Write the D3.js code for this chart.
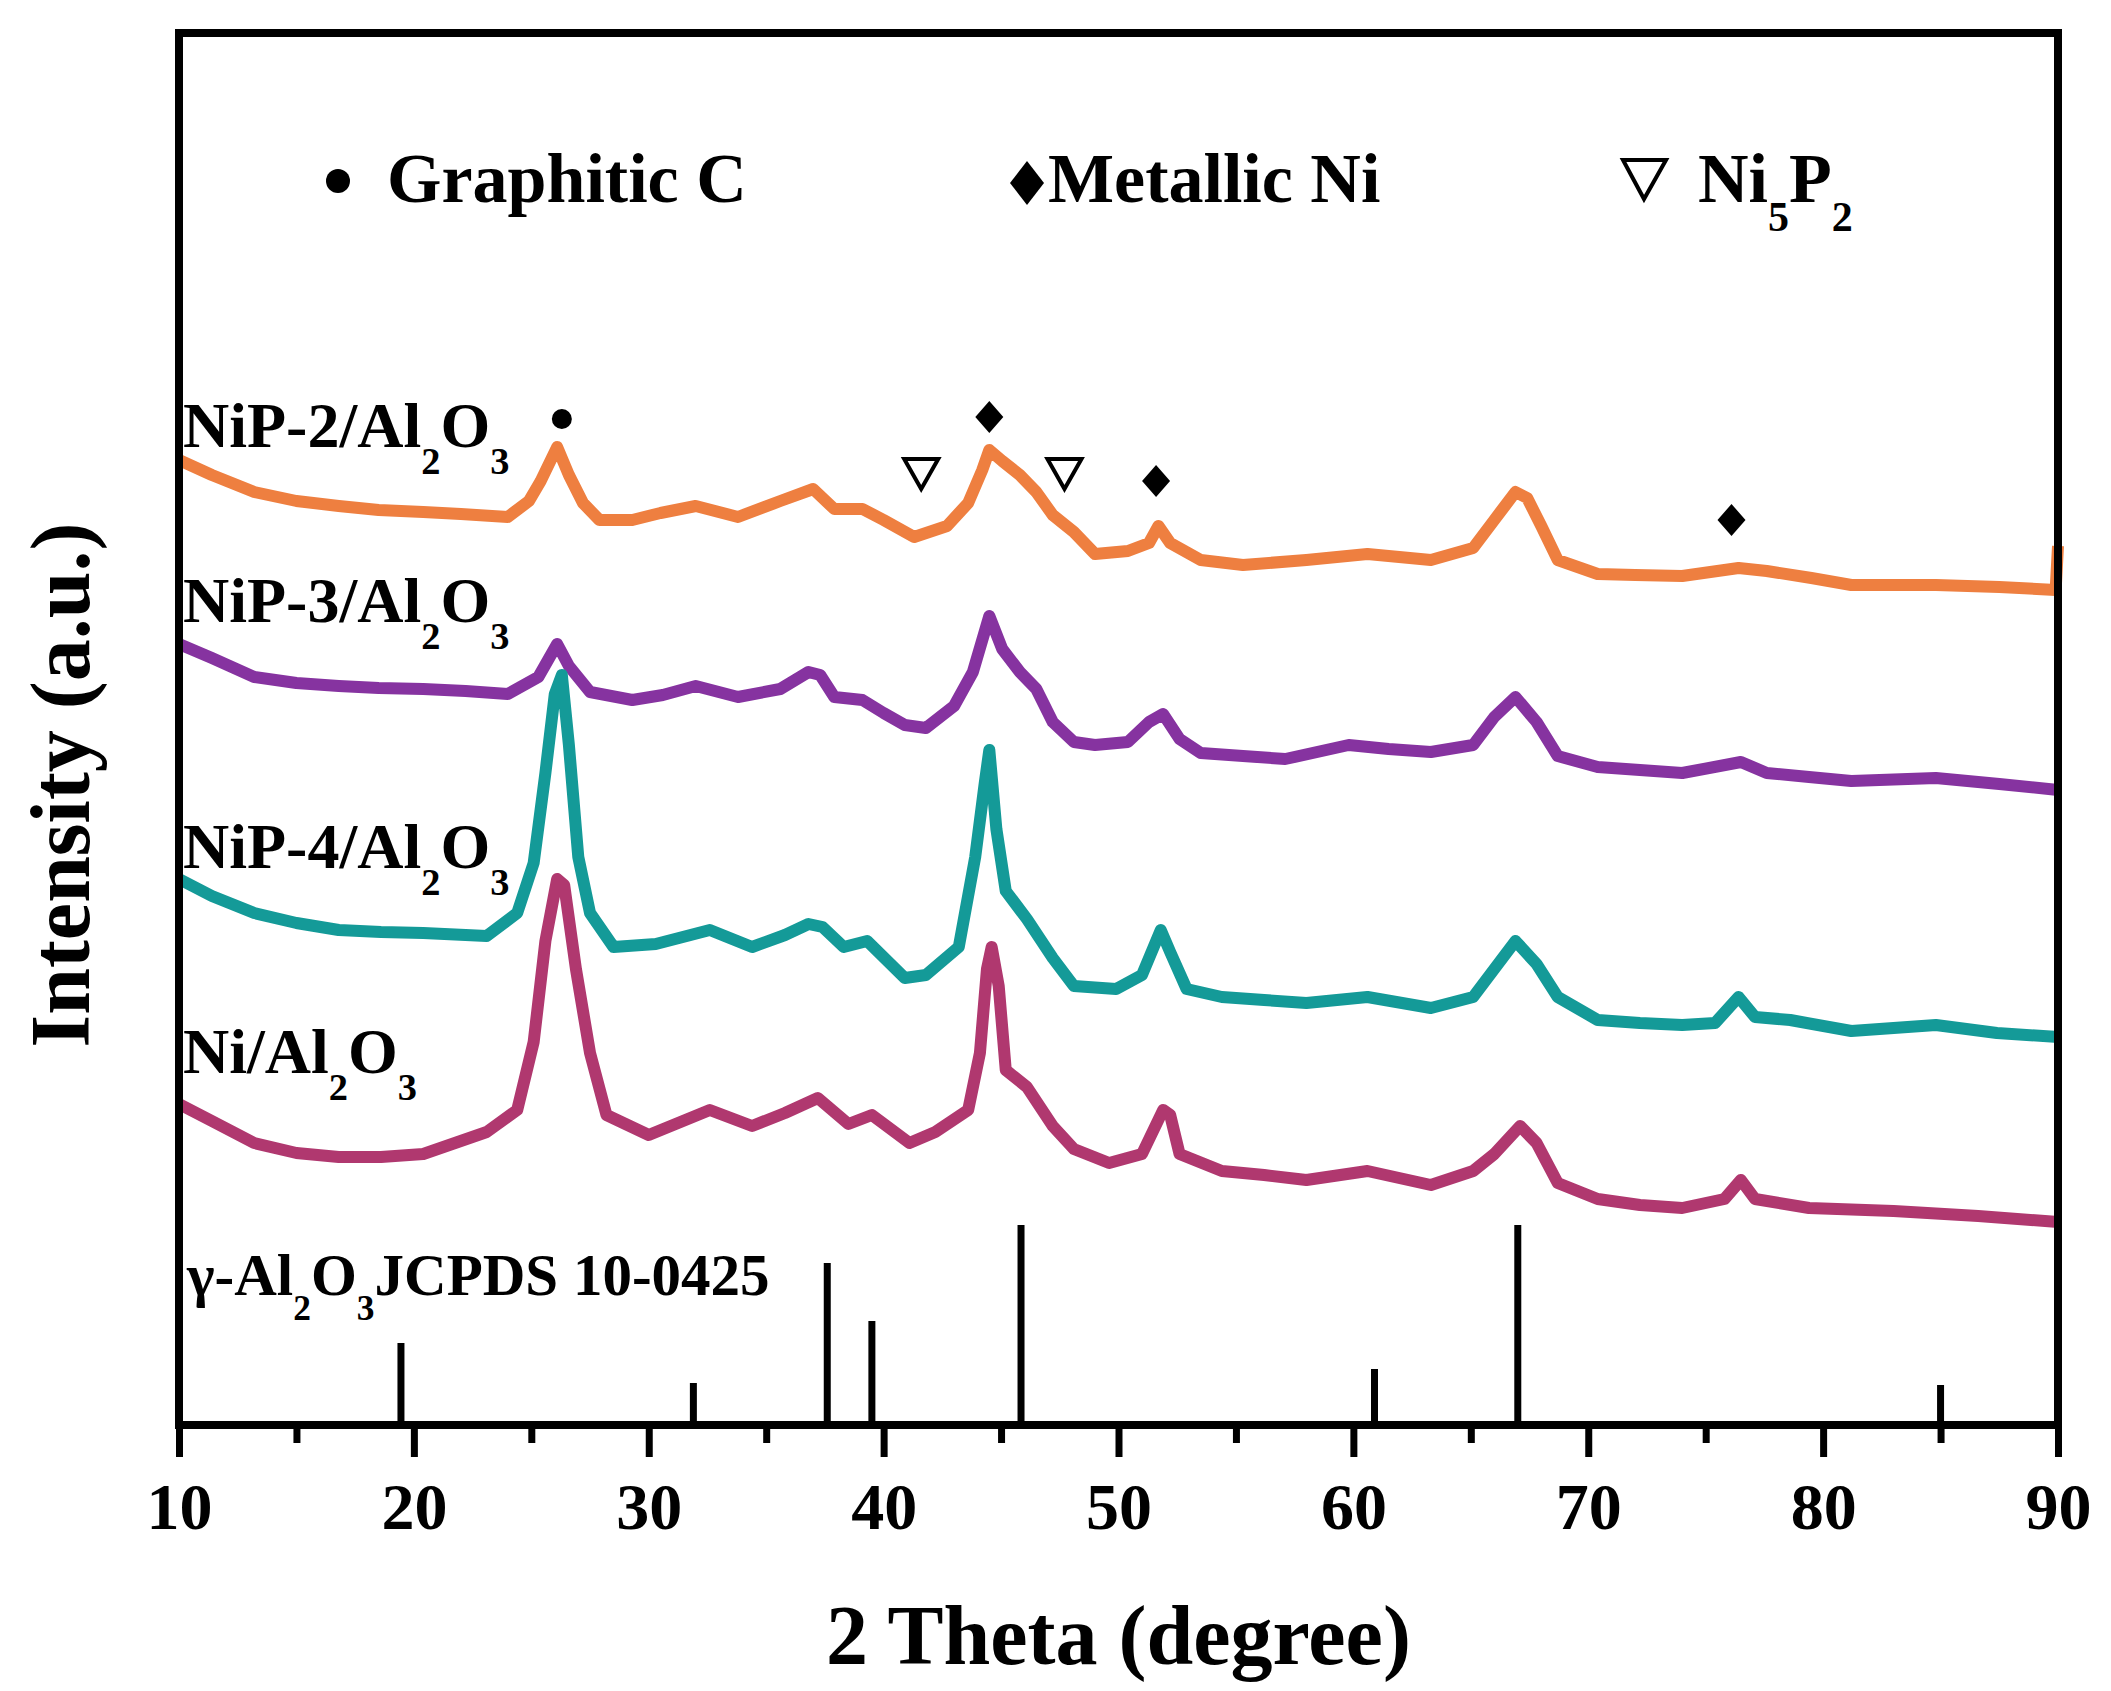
<!DOCTYPE html>
<html lang="en">
<head>
    <meta charset="UTF-8">
    <title>XRD patterns</title>
    <script src="https://cdn.jsdelivr.net/npm/d3@7"></script>
    <style>
        body { margin: 0; background: #fff; }
        svg text { font-family: "Liberation Serif", "Times New Roman", serif; font-weight: bold; fill: #000; }
    </style>
</head>
<body>
<div id="chart"></div>
<script>
    // 2 theta (deg) vs stacked intensity (a.u.)
    const niP2 = [[10.0,965],[11.4,950],[13.2,933],[15.0,924],[16.8,919],[18.5,915],[20.4,913],[22.0,911],[24.0,908],[24.9,924],[25.4,944],[26.1,978],[26.6,950],[27.2,922],[27.9,905],[29.3,905],[30.5,912],[32.0,919],[33.8,908],[35.6,924],[37.0,936],[37.9,916],[39.1,916],[40.0,905],[41.3,888],[42.7,899],[43.6,922],[44.2,955],[44.5,975],[45.05,964],[45.8,950],[46.5,933],[47.2,910],[48.1,893],[49.0,871],[50.4,874],[51.3,882],[51.7,899],[52.2,882],[53.5,865],[55.3,860],[58.0,865],[60.6,871],[63.3,865],[65.1,877],[66.0,905],[66.9,933],[67.4,927],[68.0,899],[68.7,865],[70.4,851],[72.0,850],[74.0,849],[76.4,857],[77.6,854],[79.5,847],[81.2,840],[84.8,840],[87.5,838],[89.9,835],[90.0,879]];
    const niP3 = [[10.0,781],[11.4,767],[13.2,748],[15.0,742],[16.8,739],[18.5,737],[20.4,736],[22.2,734],[24.0,731],[25.3,748],[26.1,781],[26.6,759],[27.5,733],[29.3,725],[30.6,730],[32.0,739],[33.8,728],[35.6,736],[36.8,753],[37.3,750],[37.9,728],[39.1,725],[40.0,712],[40.9,700],[41.8,697],[43.0,719],[43.8,753],[44.5,809],[45.05,776],[45.8,753],[46.5,736],[47.2,703],[48.1,683],[49.0,680],[50.4,683],[51.3,703],[51.9,711],[52.6,686],[53.5,672],[55.3,669],[57.1,666],[59.8,680],[61.5,676],[63.3,673],[65.1,680],[66.0,708],[66.9,728],[67.8,703],[68.7,669],[70.4,658],[72.2,655],[74.0,652],[76.5,663],[77.6,652],[79.4,648],[81.2,644],[84.8,647],[87.5,641],[90.0,635]];
    const niP4 = [[10.0,546],[11.4,529],[13.2,512],[15.0,502],[16.8,495],[18.6,493],[20.4,492],[23.1,489],[24.4,512],[25.1,562],[25.6,652],[26.0,731],[26.3,750],[26.6,680],[27.0,568],[27.5,512],[28.5,478],[30.3,481],[32.6,495],[34.4,478],[35.8,490],[36.8,501],[37.4,498],[38.3,478],[39.3,484],[40.9,447],[41.8,450],[43.2,478],[43.9,568],[44.3,641],[44.5,675],[44.8,596],[45.2,534],[46.1,506],[47.2,467],[48.1,439],[49.9,436],[51.0,450],[51.8,495],[52.2,473],[52.9,436],[54.4,428],[56.2,425],[58.0,422],[60.6,428],[63.3,417],[65.1,428],[66.0,456],[66.9,484],[67.8,461],[68.7,428],[70.4,405],[72.2,402],[74.0,400],[75.4,402],[76.4,428],[77.1,408],[78.6,405],[81.2,394],[83.0,397],[84.8,400],[87.4,392],[90.0,388]];
    const niAl = [[10.0,321],[11.4,304],[13.2,282],[15.0,272],[16.8,268],[18.6,268],[20.4,271],[23.1,293],[24.4,315],[25.1,383],[25.6,484],[26.1,546],[26.4,540],[26.9,456],[27.5,372],[28.2,310],[30.0,290],[32.6,315],[34.4,299],[35.8,312],[37.2,327],[38.5,301],[39.5,310],[41.1,282],[42.2,293],[43.6,315],[44.1,372],[44.4,456],[44.6,478],[44.9,439],[45.2,355],[46.1,338],[47.2,299],[48.1,276],[49.6,262],[51.0,271],[51.9,315],[52.2,310],[52.6,271],[54.4,254],[56.2,250],[58.0,245],[60.6,254],[63.3,240],[65.1,254],[66.0,271],[67.1,299],[67.8,282],[68.7,242],[70.4,226],[72.2,220],[74.0,217],[75.8,226],[76.5,245],[77.1,226],[79.4,217],[83.0,214],[86.6,209],[90.0,203]];

    const seriesNames = ["NiP-2/Al2O3", "NiP-3/Al2O3", "NiP-4/Al2O3", "Ni/Al2O3"];
    const seriesColors = ["#EE7F40", "#8633A0", "#149A98", "#B0386F"];
    const seriesData = [niP2, niP3, niP4, niAl];
    // label baseline, in the same intensity units
    const labelLevels = [978, 803, 557, 352];

    // gamma-Al2O3 JCPDS 10-0425 reference lines (2 theta, relative intensity)
    const refPeaks = [[19.45,41],[31.9,21],[37.6,81],[39.5,52],[45.85,100],[60.9,28],[67.0,100],[85.0,20]];

    // phase markers above the NiP-2 pattern
    const phaseMarks = [
        {t: 26.3, v: 1006, kind: "dot"},
        {t: 44.5, v: 1008, kind: "diamond"},
        {t: 41.6, v: 952, kind: "tri"},
        {t: 47.7, v: 952, kind: "tri"},
        {t: 51.6, v: 944, kind: "diamond"},
        {t: 76.1, v: 905, kind: "diamond"}
    ];

    const majorTicks = [10, 20, 30, 40, 50, 60, 70, 80, 90];
    const minorTicks = [15, 25, 35, 45, 55, 65, 75, 85];

    const width = 2111, height = 1691;
    const plotLeft = 179, plotRight = 2058, plotTop = 33, plotBottom = 1425;

    const svg = d3.select("#chart").append("svg")
        .attr("width", width)
        .attr("height", height);

    const x = d3.scaleLinear().domain([10, 90]).range([plotLeft, plotRight]);
    const y = d3.scaleLinear().domain([0, 1392]).range([plotBottom, plotTop]);
    const yRef = d3.scaleLinear().domain([0, 100]).range([plotBottom, plotBottom - 200]);

    // write "Al2O3"-style text with subscripts
    function chem(sel, str, size) {
        const parts = str.match(/[^0-9]+|[0-9]/g);
        let sub = false;
        parts.forEach((p, i) => {
            const isDigit = /[0-9]/.test(p) && i > 0 && /[A-Za-z]$/.test(parts[i - 1]);
            const ts = sel.append("tspan").text(p);
            if (isDigit) {
                ts.attr("font-size", size * 0.6).attr("dy", sub ? 0 : size * 0.42);
                sub = true;
            } else {
                ts.attr("font-size", size).attr("dy", sub ? -size * 0.42 : 0);
                sub = false;
            }
        });
    }

    // reference sticks
    svg.append("g")
        .selectAll("line")
        .data(refPeaks)
        .enter().append("line")
        .attr("x1", d => x(d[0]))
        .attr("x2", d => x(d[0]))
        .attr("y1", yRef(0))
        .attr("y2", d => yRef(d[1]))
        .attr("stroke", "#000")
        .attr("stroke-width", 7);

    // patterns
    const line = d3.line().x(d => x(d[0])).y(d => y(d[1]));
    svg.append("g")
        .selectAll("path")
        .data(seriesData)
        .enter().append("path")
        .attr("d", d => line(d))
        .attr("fill", "none")
        .attr("stroke", (d, i) => seriesColors[i])
        .attr("stroke-width", 12)
        .attr("stroke-linejoin", "round");

    // sample labels
    seriesNames.forEach((name, i) => {
        const t = svg.append("text")
            .attr("x", plotLeft + 4)
            .attr("y", y(labelLevels[i]));
        chem(t, name, 64);
    });

    const refLabel = svg.append("text").attr("x", plotLeft + 8).attr("y", 1295);
    refLabel.append("tspan").attr("font-size", 59).text("\u03B3-");
    chem(refLabel, "Al2O3", 59);
    refLabel.append("tspan").attr("font-size", 59).attr("dy", -59 * 0.42).text("JCPDS 10-0425");

    // markers
    const marks = svg.append("g");
    phaseMarks.forEach(m => {
        const cx = x(m.t), cy = y(m.v);
        if (m.kind === "dot") {
            marks.append("circle").attr("cx", cx).attr("cy", cy).attr("r", 10).attr("fill", "#000");
        } else if (m.kind === "diamond") {
            marks.append("path")
                .attr("d", `M${cx},${cy - 16}L${cx + 14},${cy}L${cx},${cy + 16}L${cx - 14},${cy}Z`)
                .attr("fill", "#000");
        } else {
            marks.append("path")
                .attr("d", `M${cx - 17},${cy - 14}L${cx + 17},${cy - 14}L${cx},${cy + 16}Z`)
                .attr("fill", "none").attr("stroke", "#000").attr("stroke-width", 4);
        }
    });

    // legend
    const lg = svg.append("g");
    lg.append("circle").attr("cx", 338).attr("cy", 181).attr("r", 12).attr("fill", "#000");
    lg.append("text").attr("x", 387).attr("y", 202).attr("font-size", 70).text("Graphitic C");
    lg.append("path").attr("d", "M1027,161L1044,183L1027,205L1010,183Z").attr("fill", "#000");
    lg.append("text").attr("x", 1048).attr("y", 202).attr("font-size", 70).text("Metallic Ni");
    lg.append("path").attr("d", "M1623,160L1666,160L1644,199Z")
        .attr("fill", "none").attr("stroke", "#000").attr("stroke-width", 4);
    const ni5p2 = lg.append("text").attr("x", 1698).attr("y", 202);
    chem(ni5p2, "Ni5P2", 70);

    // axes
    const xAxis = svg.append("g")
        .attr("transform", `translate(0,${plotBottom})`)
        .call(d3.axisBottom(x).tickValues(majorTicks).tickSize(32).tickFormat(d3.format("d")));
    xAxis.select(".domain").remove();
    xAxis.selectAll(".tick line").attr("stroke-width", 7);
    xAxis.selectAll(".tick text")
        .attr("y", 57)
        .attr("dy", "0.71em")
        .attr("font-size", 66)
        .style("font-family", "'Liberation Serif', 'Times New Roman', serif")
        .style("font-weight", "bold");

    const xMinor = svg.append("g")
        .attr("transform", `translate(0,${plotBottom})`)
        .call(d3.axisBottom(x).tickValues(minorTicks).tickSize(18).tickFormat(""));
    xMinor.select(".domain").remove();
    xMinor.selectAll(".tick line").attr("stroke-width", 7);

    svg.append("rect")
        .attr("x", plotLeft).attr("y", plotTop)
        .attr("width", plotRight - plotLeft).attr("height", plotBottom - plotTop)
        .attr("fill", "none").attr("stroke", "#000").attr("stroke-width", 8);

    svg.append("text")
        .attr("x", (plotLeft + plotRight) / 2)
        .attr("y", 1664)
        .attr("text-anchor", "middle")
        .attr("font-size", 84)
        .text("2 Theta (degree)");

    svg.append("text")
        .attr("transform", "translate(89,785) rotate(-90)")
        .attr("text-anchor", "middle")
        .attr("font-size", 84)
        .text("Intensity (a.u.)");
</script>
</body>
</html>
